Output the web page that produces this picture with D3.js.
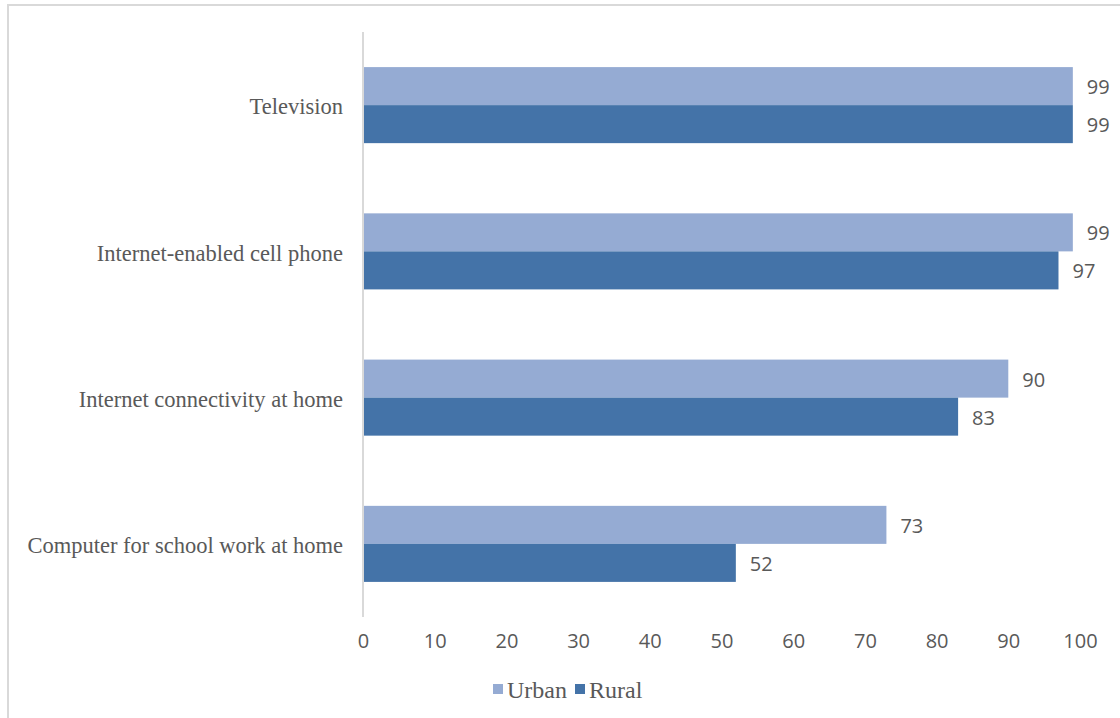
<!DOCTYPE html>
<html><head><meta charset="utf-8">
<script src="https://cdn.jsdelivr.net/npm/d3@7"></script>
<style>html,body{margin:0;padding:0;background:#fff;}</style>
</head><body>
<svg id="chart" width="1120" height="718"></svg>
<script>
const categories = ["Television", "Internet-enabled cell phone", "Internet connectivity at home", "Computer for school work at home"];
const seriesNames = ["Urban", "Rural"];
const urbanValues = [99, 99, 90, 73];
const ruralValues = [99, 97, 83, 52];
const tickValues = [0, 10, 20, 30, 40, 50, 60, 70, 80, 90, 100];
const colors = {Urban: "#95abd3", Rural: "#4473a8"};

(function () {
const svg = d3.select("#chart");
const serif = "'Liberation Serif', serif";
const sans = "'Open Sans', 'Liberation Sans', sans-serif";
const textColor = "#595959";

// frame
svg.append("rect").attr("x", 8).attr("y", 5).attr("width", 1130).attr("height", 730)
  .attr("fill", "none").attr("stroke", "#d9d9d9").attr("stroke-width", 2);

const mLeft = 363, mRight = 1080, mTop = 32, mBottom = 617;
const x = d3.scaleLinear().domain([0, 100]).range([mLeft, mRight]);
const y = d3.scaleBand().domain(categories).range([mTop, mBottom]).paddingInner(0.48).paddingOuter(0.24);
const sub = d3.scaleBand().domain(seriesNames).range([0, y.bandwidth()]);

const data = categories.map((c, i) => ({cat: c, Urban: urbanValues[i], Rural: ruralValues[i]}));

const g = svg.append("g");
data.forEach(d => {
  seriesNames.forEach(s => {
    g.append("rect")
      .attr("x", x(0)).attr("y", y(d.cat) + sub(s))
      .attr("width", x(d[s]) - x(0)).attr("height", sub.bandwidth())
      .attr("fill", colors[s]);
    g.append("text")
      .attr("x", x(d[s]) + 14).attr("y", y(d.cat) + sub(s) + sub.bandwidth() / 2 + 1)
      .attr("dy", "0.35em").attr("font-family", sans).attr("font-size", 20)
      .attr("fill", textColor).text(d[s]);
  });
});

// vertical axis line
svg.append("line").attr("x1", x(0)).attr("x2", x(0)).attr("y1", mTop).attr("y2", mBottom)
  .attr("stroke", "#d9d9d9").attr("stroke-width", 2);

// category labels
const yAxis = d3.axisLeft(y).tickSize(0).tickPadding(20);
const ya = svg.append("g").attr("transform", `translate(${x(0)},2)`).call(yAxis);
ya.select(".domain").remove();
ya.selectAll("text").attr("font-family", serif).attr("font-size", 22.5).attr("fill", textColor);

// x axis labels
const xAxis = d3.axisBottom(x).tickValues(tickValues).tickSize(0).tickPadding(0);
const xa = svg.append("g").attr("transform", `translate(0,${mBottom + 17})`).call(xAxis);
xa.select(".domain").remove();
xa.selectAll("text").attr("font-family", sans).attr("font-size", 20).attr("fill", textColor);

// legend
const legend = svg.append("g");
const legendItems = [{name: "Urban", x: 493}, {name: "Rural", x: 575}];
legendItems.forEach(it => {
  legend.append("rect").attr("x", it.x).attr("y", 684).attr("width", 10).attr("height", 10).attr("fill", colors[it.name]);
  legend.append("text").attr("x", it.x + 14).attr("y", 690).attr("dy", "0.35em")
    .attr("font-family", serif).attr("font-size", 24).attr("fill", textColor).text(it.name);
});
})();
</script>
</body></html>
